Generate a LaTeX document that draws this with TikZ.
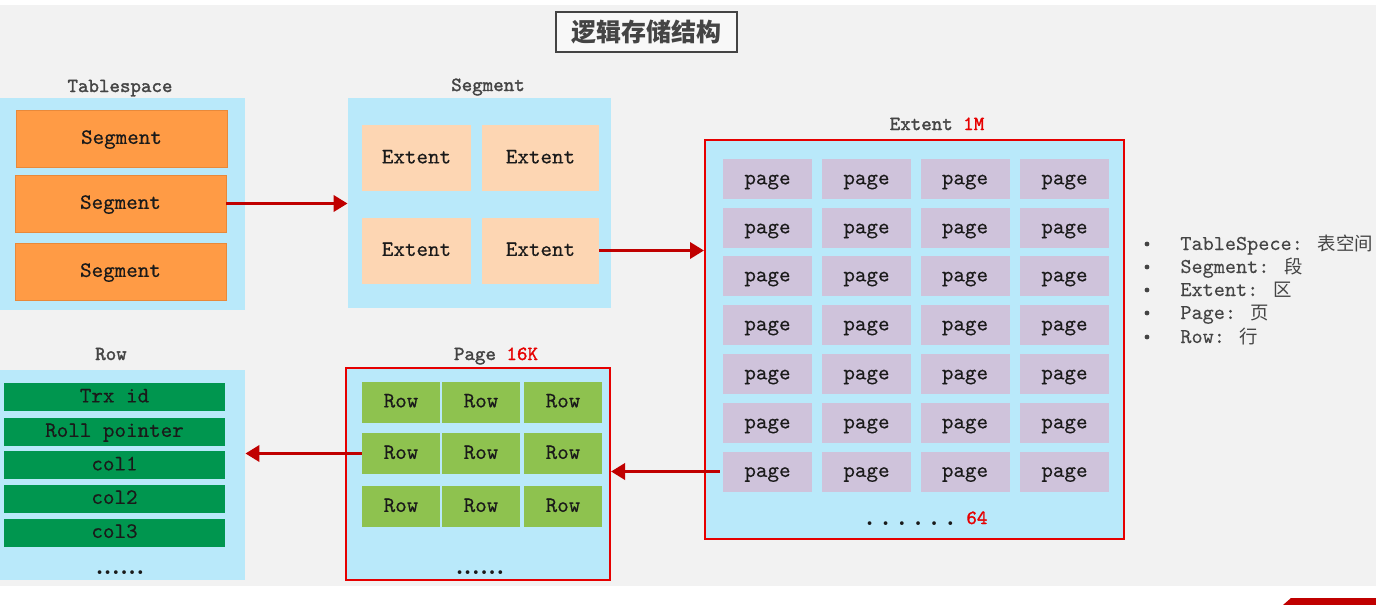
\documentclass[tikz,border=0pt]{standalone}
\usepackage{fontspec}
\newfontfamily\cjk{Noto Sans CJK SC}
\newfontfamily\hdfont{lmmono10-regular.otf}[FakeBold=1.6]
\newfontfamily\bxfont{lmmono10-regular.otf}[FakeBold=0.35]
\newfontfamily\lgfont{lmmono10-regular.otf}[FakeBold=0.15]
\usetikzlibrary{arrows.meta}
\definecolor{bgc}{HTML}{F2F2F2}
\definecolor{lblue}{HTML}{B9E9FA}
\definecolor{orng}{HTML}{FF9B45}
\definecolor{orngd}{HTML}{E8893A}
\definecolor{peach}{HTML}{FDD6B3}
\definecolor{lilac}{HTML}{CFC3DB}
\definecolor{lgreen}{HTML}{8EC24F}
\definecolor{dgreen}{HTML}{00964F}
\definecolor{bred}{HTML}{E60000}
\definecolor{ared}{HTML}{C00000}
\definecolor{txt}{HTML}{1A1A1A}
\definecolor{ltxt}{HTML}{444444}
\tikzset{
  boxfont/.style={font=\bxfont\fontsize{11}{13}\selectfont, text=txt, text height=0.7em, text depth=0.16em},
  panel/.style={rectangle, fill=lblue, draw=none, inner sep=0pt},
  redpanel/.style={rectangle, fill=lblue, draw=bred, line width=1pt, inner sep=0pt},
  segbox/.style={rectangle, fill=orng, draw=orngd, line width=0.4pt, inner sep=0pt, minimum width=105.5pt, minimum height=28.5pt, boxfont},
  extbox/.style={rectangle, fill=peach, inner sep=0pt, minimum height=33pt, boxfont},
  pagebox/.style={rectangle, fill=lilac, inner sep=0pt, minimum width=44.5pt, minimum height=20pt, boxfont},
  rowbox/.style={rectangle, fill=lgreen, inner sep=0pt, minimum width=39pt, minimum height=20.5pt, boxfont},
  colbox/.style={rectangle, fill=dgreen, inner sep=0pt, minimum width=110.5pt, minimum height=14pt, boxfont},
  head/.style={font=\hdfont\fontsize{10}{12}\selectfont, text=ltxt, inner sep=0pt, text height=0.6em, text depth=0.2em},
  dots/.style={font=\rmfamily\bfseries\fontsize{13}{14}\selectfont, text=txt, inner sep=0pt, anchor=base},
  legend/.style={anchor=base west, font=\lgfont\fontsize{10.6}{13}\selectfont, text=ltxt, inner sep=0pt},
  bullet/.style={circle, fill=ltxt, inner sep=0pt, minimum size=2.4pt},
  conn/.style={draw=ared, line width=1.8pt, -{Triangle[length=7pt,width=8pt]}},
}
\newcommand{\lcjk}[1]{{\cjk\fontsize{9.2}{11}\selectfont #1}}
\begin{document}
\begin{tikzpicture}[x=0.5pt,y=-0.5pt]
\useasboundingbox (0,0) rectangle (1376,605);
\fill[white] (0,0) rectangle (1376,605);
\fill[bgc] (0,5) rectangle (1376,586);
\fill[ared] (1283,605) -- (1291,598) -- (1376,598) -- (1376,605) -- cycle;

% title
\node[rectangle, draw=ltxt, line width=0.6pt, fill=bgc!50!white, minimum width=90.5pt, minimum height=20pt, inner sep=0pt, font=\cjk\bfseries\fontsize{12.5}{14}\selectfont, text=ltxt] (title) at (646.5,32) {逻辑存储结构};

% Tablespace
\node[head] (tslbl) at (120,88) {Tablespace};
\node[panel, minimum width=122.5pt, minimum height=106pt] (ts) at (122.5,204) {};
\node[segbox] (s1) at (121.5,138.5) {Segment};
\node[segbox] (s2) at (120.5,203.5) {Segment};
\node[segbox] (s3) at (120.5,271.5) {Segment};

% Segment
\node[head] (seglbl) at (488,87) {Segment};
\node[panel, minimum width=131.5pt, minimum height=105pt] (seg) at (479.5,203) {};
\node[extbox, minimum width=54.5pt] (e1) at (416.5,158) {Extent};
\node[extbox, minimum width=58.5pt] (e2) at (540.5,158) {Extent};
\node[extbox, minimum width=54.5pt] (e3) at (416.5,250.5) {Extent};
\node[extbox, minimum width=58.5pt] (e4) at (540.5,250.5) {Extent};

% Extent
\node[head] (extlbl) at (937,126) {Extent \textcolor{bred}{1M}};
\node[redpanel, minimum width=209.5pt, minimum height=199.5pt] (ext) at (914.5,339.5) {};
\foreach \r/\y in {1/179,2/228,3/276,4/325,5/374,6/423,7/471.5}{
  \foreach \c/\x in {1/767.5,2/866.5,3/965,4/1064.5}{
    \node[pagebox] (p\r\c) at (\x,\y) {page};
  }
}
\node[dots] (extdots) at (910,525) {.\hspace{4pt}.\hspace{4pt}.\hspace{4pt}.\hspace{4pt}.\hspace{4pt}.};
\node[head, anchor=west] (ext64) at (966,520) {\textcolor{bred}{64}};

% Page
\node[head] (pglbl) at (496,356) {Page \textcolor{bred}{16K}};
\node[redpanel, minimum width=132pt, minimum height=106pt] (pg) at (478,474) {};
\foreach \r/\y in {1/402,2/453.5,3/506.5}{
  \foreach \c/\x in {1/401,2/481,3/563}{
    \node[rowbox] (r\r\c) at (\x,\y) {Row};
  }
}
\node[dots] (pgdots) at (480,574) {......};

% Row
\node[head] (rowlbl) at (111,356) {Row};
\node[panel, minimum width=122.5pt, minimum height=105pt] (row) at (122.5,475) {};
\node[colbox] (c1) at (114.5,397) {Trx id};
\node[colbox] (c2) at (114.5,431.5) {Roll pointer};
\node[colbox] (c3) at (114.5,465) {col1};
\node[colbox] (c4) at (114.5,498.5) {col2};
\node[colbox] (c5) at (114.5,532.5) {col3};
\node[dots] (rowdots) at (120,574) {......};

% connectors
\draw[conn] (s2.east) -- (s2.east -| seg.west);
\draw[conn] (e4.east) -- (e4.east -| ext.west);
\draw[conn] ([xshift=-1.5pt]p71.west) -- (p71.west -| pg.east);
\draw[conn] (r21.west) -- (r21.west -| row.east);

% legend
\foreach \i/\y/\t in {1/244/{TableSpece: \lcjk{表空间}},2/267/{Segment: \lcjk{段}},3/290/{Extent: \lcjk{区}},4/313/{Page: \lcjk{页}},5/337/{Row: \lcjk{行}}}{
  \node[bullet] (b\i) at (1147,\y) {};
  \node[legend] (l\i) at (1180,\y+6) {\t};
}
\end{tikzpicture}
\end{document}
